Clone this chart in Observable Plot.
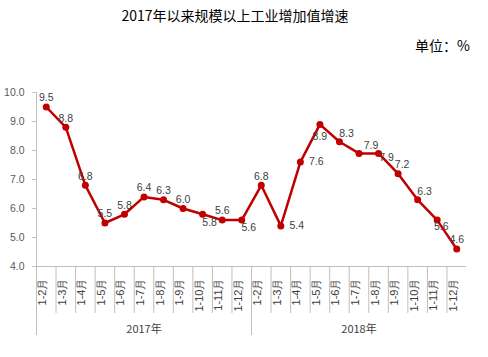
<!DOCTYPE html>
<html>
<head>
<meta charset="utf-8">
<script src="https://cdn.jsdelivr.net/npm/d3@7"></script>
<script src="https://cdn.jsdelivr.net/npm/@observablehq/plot@0.6"></script>
<style>
  html, body { margin: 0; padding: 0; background: #fff; }
  #wrap { position: relative; width: 488px; height: 357px; overflow: hidden; }
  #title { position: absolute; left: 0; top: 5px; width: 470px; text-align: center;
           font: 14px "Noto Sans CJK SC", sans-serif; color: #000; line-height: 20px; }
  #unit { position: absolute; right: 18px; top: 35px;
          font: 14px "Noto Sans CJK SC", sans-serif; color: #000; line-height: 20px; }
  #chart { position: absolute; left: 0; top: 0; }
</style>
</head>
<body>
<div id="wrap">
  <div id="chart"></div>
  <div id="title">2017年以来规模以上工业增加值增速</div>
  <div id="unit">单位：%</div>
</div>
<script>
const months = ["1-2月","1-3月","1-4月","1-5月","1-6月","1-7月","1-8月","1-9月","1-10月","1-11月","1-12月"];
const years = ["2017年","2018年"];
const growth2017 = [9.5, 8.8, 6.8, 5.5, 5.8, 6.4, 6.3, 6.0, 5.8, 5.6, 5.6];
const growth2018 = [6.8, 5.4, 7.6, 8.9, 8.3, 7.9, 7.9, 7.2, 6.3, 5.6, 4.6];
const yTicks = [4, 5, 6, 7, 8, 9, 10];
// where each value label sits relative to its point
const place2017 = ["above","above","above","above","above","above","above","above","belowRight","above","belowRight"];
const place2018 = ["above","right","right","below","aboveRight","aboveFar","rightLow","aboveNear","aboveRight","belowNear","above"];

const series = [growth2017, growth2018];
const places = [place2017, place2018];
const rows = years.flatMap((yr, k) => months.map((m, j) => ({
  i: k * months.length + j, year: yr, month: m, value: series[k][j], place: places[k][j]
})));
const n = rows.length;
const yearRows = years.map((yr, k) => ({yr, mid: k * months.length + (months.length - 1) / 2, start: k * months.length - 0.5}));
const seps = rows.slice(0, -1).map(r => r.i + 0.5).filter(v => !yearRows.some(y => y.start === v));

const offsets = {
  above: [0, -9], below: [0, 12], right: [16, 0], aboveRight: [7, -8], aboveNear: [4, -9],
  aboveFar: [12, -8], rightLow: [8, 4], belowRight: [7, 8], belowNear: [4, 7]
};

const red = "#C00000";
const axisGray = "#BFBFBF";
const textGray = "#404040";
const font = "'Liberation Sans', Arial, sans-serif";

const labelMarks = Object.entries(offsets).map(([p, [dx, dy]]) =>
  Plot.text(rows.filter(r => r.place === p), {
    x: "i", y: "value", text: d => d.value.toFixed(1),
    dx, dy, fontSize: 10.5, fill: textGray
  })
);

const chart = Plot.plot({
  width: 488,
  height: 357,
  marginLeft: 36,
  marginRight: 22,
  marginTop: 92,
  marginBottom: 91,
  style: {fontFamily: font, background: "transparent", overflow: "visible"},
  x: {type: "linear", domain: [-0.5, n - 0.5], axis: null},
  y: {domain: [4, 10], axis: null},
  marks: [
    Plot.axisY({ticks: yTicks, tickFormat: d => d.toFixed(1), tickSize: 4, tickPadding: 8,
                stroke: axisGray, fill: "#595959", fontSize: 10.5, label: null}),
    Plot.ruleY([4], {stroke: axisGray, strokeWidth: 1}),
    Plot.ruleX(seps, {x: d => d, y1: 4, y2: 4, insetBottom: -47, stroke: axisGray}),
    Plot.ruleX(yearRows, {x: "start", y1: d => d.start < 0 ? 10 : 4, y2: 4, insetBottom: -69, stroke: axisGray}),
    Plot.text(rows, {x: "i", text: "month", frameAnchor: "bottom", rotate: -90, textAnchor: "end",
                     dy: 12, fontSize: 11, fill: textGray}),
    Plot.text(yearRows, {x: "mid", text: "yr", frameAnchor: "bottom", dy: 66, fontSize: 11, fill: textGray,
                         fontFamily: "'Noto Sans CJK SC', sans-serif"}),
    Plot.line(rows, {x: "i", y: "value", stroke: red, strokeWidth: 2.5}),
    Plot.dot(rows, {x: "i", y: "value", r: 3.5, fill: red, stroke: "none"}),
    ...labelMarks
  ]
});
document.getElementById("chart").appendChild(chart);
</script>
</body>
</html>
